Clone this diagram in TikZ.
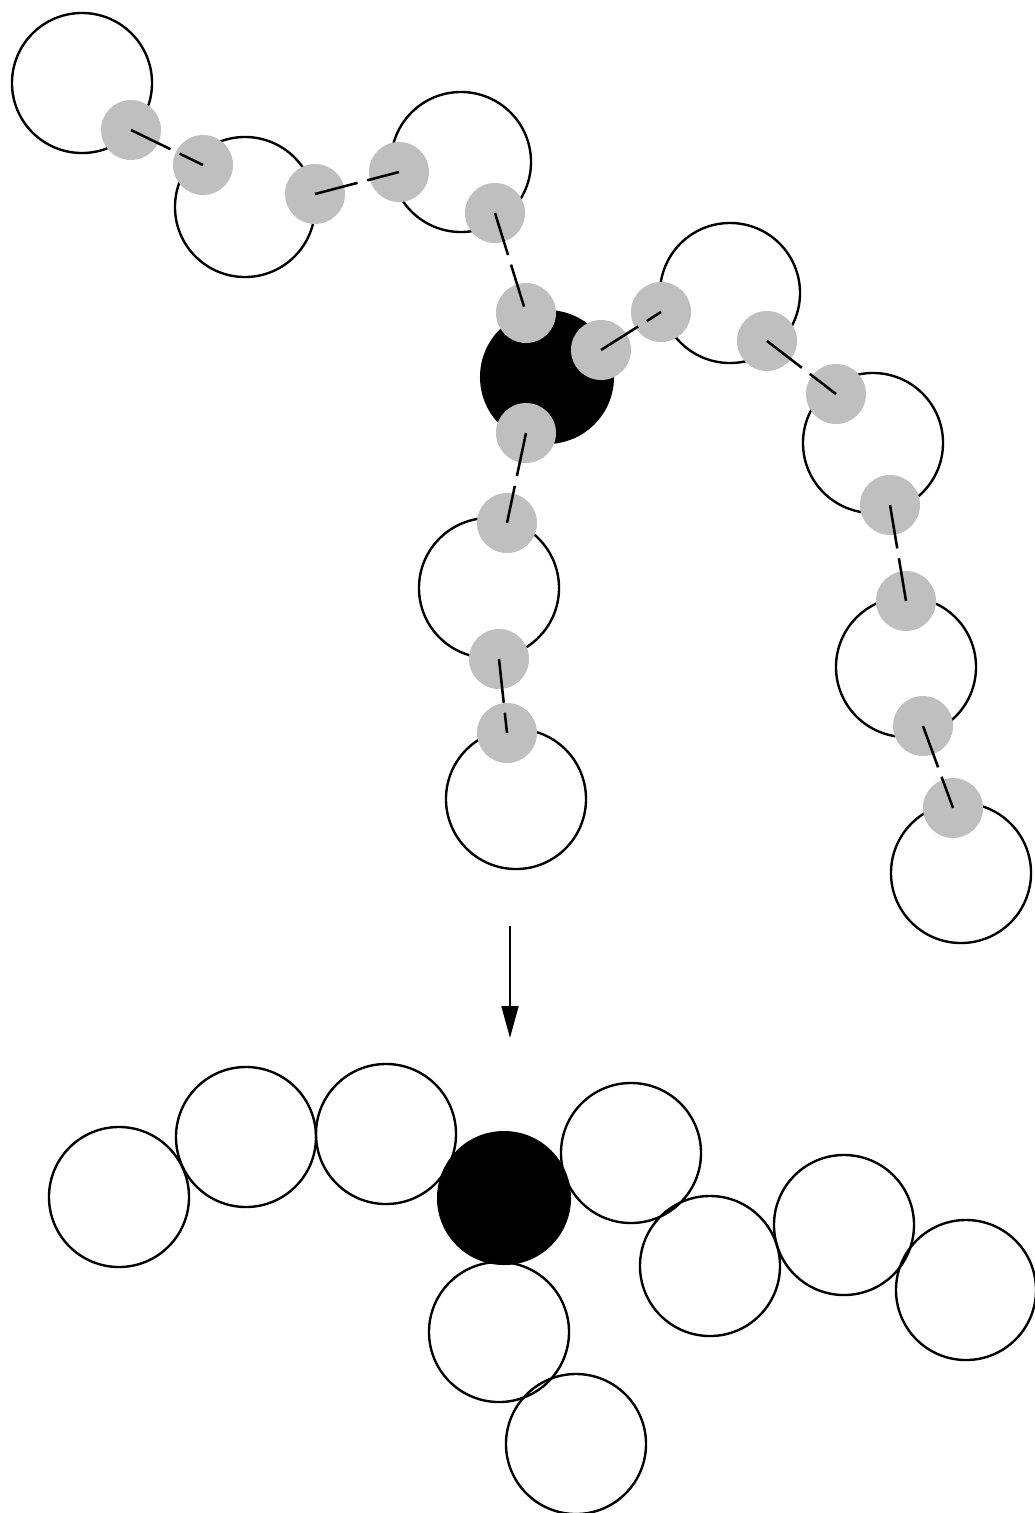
\documentclass[tikz,border=0pt]{standalone}
\usepackage{tikz}
\usetikzlibrary{arrows.meta}

\begin{document}
\begin{tikzpicture}[
  x=0.025cm, y=-0.025cm,
  bead/.style={
    circle, draw=black, line width=1.7pt, minimum size=3.5cm, inner sep=0pt,
  },
  core/.style={
    circle, fill=black, minimum size=3.35cm, inner sep=0pt,
  },
  site/.style={
    circle, fill=black!25, minimum size=1.5cm, inner sep=0pt,
  },
  link/.style={
    line width=1.8pt, dash pattern=on 1.1cm off 0.25cm,
  },
]
  \useasboundingbox (0,0) rectangle (1034,1513);

  % Before: open chains round the core
  \node[bead] (c1) at (82,83) {};
  \node[bead] (c2) at (245,207) {};
  \node[bead] (c3) at (461,162) {};
  \node[bead] (c4) at (730,293) {};
  \node[bead] (c5) at (873,443) {};
  \node[bead] (c6) at (906,667) {};
  \node[bead] (c7) at (961,873) {};
  \node[bead] (c8) at (489,588) {};
  \node[bead] (c9) at (516,799) {};
  \node[core] (k1) at (547,377) {};

  % Before: binding sites
  \node[site] (g1) at (131,130) {};
  \node[site] (g2) at (203,165) {};
  \node[site] (g3) at (315,194) {};
  \node[site] (g4) at (399,172) {};
  \node[site] (g5) at (495,213) {};
  \node[site] (g6) at (526,313) {};
  \node[site] (g7) at (601,350) {};
  \node[site] (g8) at (661,312) {};
  \node[site] (g9) at (767,341) {};
  \node[site] (g10) at (836,394) {};
  \node[site] (g11) at (890,505) {};
  \node[site] (g12) at (906,601) {};
  \node[site] (g13) at (923,726) {};
  \node[site] (g14) at (953,808) {};
  \node[site] (g15) at (526,433) {};
  \node[site] (g16) at (507,523) {};
  \node[site] (g17) at (499,659) {};
  \node[site] (g18) at (507,733) {};

  % Before: bonds between sites
  \draw[link] (g1.center) -- (g2.center);
  \draw[link] (g3.center) -- (g4.center);
  \draw[link] (g5.center) -- (g6.center);
  \draw[link] (g7.center) -- (g8.center);
  \draw[link] (g9.center) -- (g10.center);
  \draw[link] (g11.center) -- (g12.center);
  \draw[link] (g13.center) -- (g14.center);
  \draw[link] (g15.center) -- (g16.center);
  \draw[link] (g17.center) -- (g18.center);

  % Arrow
  \coordinate (arrtop) at (510,926);
  \coordinate (arrtip) at (510,1038);
  \draw[line width=1.8pt, -{Triangle[length=0.8cm, width=0.42cm]}] (arrtop) -- (arrtip);

  % After: folded cluster
  \node[bead] (d1) at (119,1197) {};
  \node[bead] (d2) at (246,1137) {};
  \node[bead] (d3) at (386,1134) {};
  \node[bead] (d4) at (631,1153) {};
  \node[bead] (d5) at (710,1266) {};
  \node[bead] (d6) at (844,1225) {};
  \node[bead] (d7) at (966,1290) {};
  \node[bead] (d8) at (499,1332) {};
  \node[bead] (d9) at (576,1444) {};
  \node[core] (k2) at (504,1198) {};

\end{tikzpicture}
\end{document}
